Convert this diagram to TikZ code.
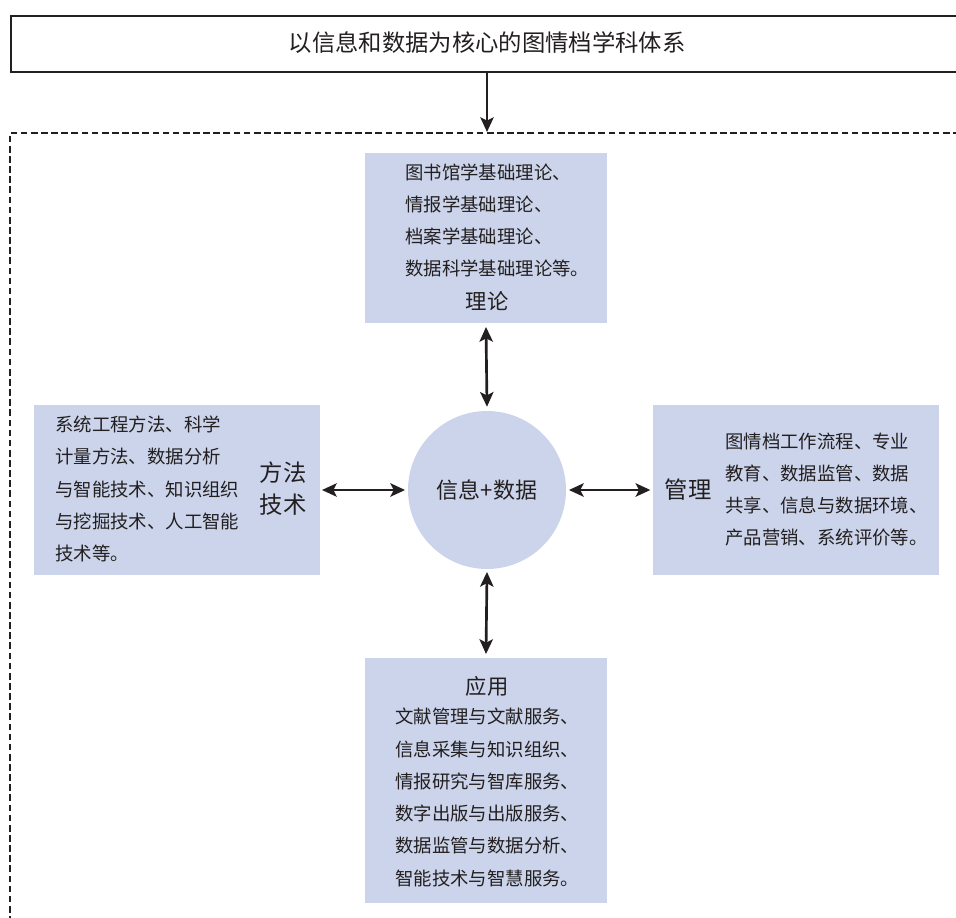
\documentclass[tikz,border=0pt]{standalone}
\usepackage{fontspec}
\setmainfont{Noto Sans CJK SC}
\usetikzlibrary{arrows.meta}
\definecolor{boxfill}{RGB}{203,212,234}
\definecolor{ink}{RGB}{35,31,32}
\begin{document}
\begin{tikzpicture}[x=0.75pt,y=-0.75pt,
  panel/.style={fill=boxfill,draw=none,inner sep=0pt,outer sep=0pt},
  body/.style={align=left,inner sep=0pt,text=ink,font=\fontsize{13.8}{24.2}\selectfont},
  head/.style={inner sep=0pt,text=ink,font=\fontsize{17}{24}\selectfont},
  tip/.tip={Stealth[length=11pt,width=10pt,inset=2.5pt]},
  link/.style={line width=2pt,draw=ink,tip-tip},
  down/.style={line width=2pt,draw=ink,-tip}]
\useasboundingbox (0,0) rectangle (956,917);
\clip (0,0) rectangle (956,917);
% top box
\node[draw=ink,line width=1.3pt,minimum width=960*0.75pt,minimum height=56*0.75pt,inner sep=0pt,anchor=north west] (top) at (10,15) {};
\node[head,font=\fontsize{17.5}{24}\selectfont] (title) at (487,43) {以信息和数据为核心的图情档学科体系};
% dashed frame
\coordinate (dtl) at (10,133);
\draw[ink,line width=1.3pt,dash pattern=on 5pt off 2.6pt] (980,133) -- (dtl) -- (10,930);
\coordinate (dtop) at (487,132);
\draw[down] (487,71) -- (dtop);
% panels
\node[panel,minimum width=242*0.75pt,minimum height=170*0.75pt] (theory) at (486,238) {};
\node[panel,minimum width=286*0.75pt,minimum height=170*0.75pt] (method) at (177,490) {};
\node[panel,minimum width=286*0.75pt,minimum height=170*0.75pt] (manage) at (796,490) {};
\node[panel,minimum width=242*0.75pt,minimum height=245*0.75pt] (apply) at (486,780.5) {};
\node[circle,fill=boxfill,minimum size=158*0.75pt,inner sep=0pt] (core) at (487,490) {};
\node[head,font=\fontsize{16.5}{24}\selectfont] (coretxt) at (487,490) {信息+数据};
% texts
\node[body,anchor=west] (theoryt) at (405,220.5) {图书馆学基础理论、\\情报学基础理论、\\档案学基础理论、\\数据科学基础理论等。};
\node[head,font=\fontsize{16}{24}\selectfont] (theoryh) at (487,301) {理论};
\node[body,anchor=west] (methodt) at (55,489) {系统工程方法、科学\\计量方法、数据分析\\与智能技术、知识组织\\与挖掘技术、人工智能\\技术等。};
\node[head,align=center,font=\fontsize{17.5}{24}\selectfont] (methodh) at (283,489) {方法\\技术};
\node[body,anchor=west] (managet) at (725,489.5) {图情档工作流程、专业\\教育、数据监管、数据\\共享、信息与数据环境、\\产品营销、系统评价等。};
\node[head,font=\fontsize{17.5}{24}\selectfont] (manageh) at (688,490) {管理};
\node[head,font=\fontsize{16}{24}\selectfont] (applyh) at (487,686) {应用};
\node[body,anchor=west] (applyt) at (395,797.5) {文献管理与文献服务、\\信息采集与知识组织、\\情报研究与智库服务、\\数字出版与出版服务、\\数据监管与数据分析、\\智能技术与智慧服务。};
% connectors
\draw[link] ([yshift=-3pt]theory.south) -- ([yshift=3pt]core.north);
\draw[link] ([yshift=3pt]apply.north) -- ([yshift=-2pt]core.south);
\draw[link] ([xshift=1.5pt]method.east) -- ([xshift=-2pt]core.west);
\draw[link] ([xshift=-2pt]manage.west) -- ([xshift=2pt]core.east);
\end{tikzpicture}
\end{document}
